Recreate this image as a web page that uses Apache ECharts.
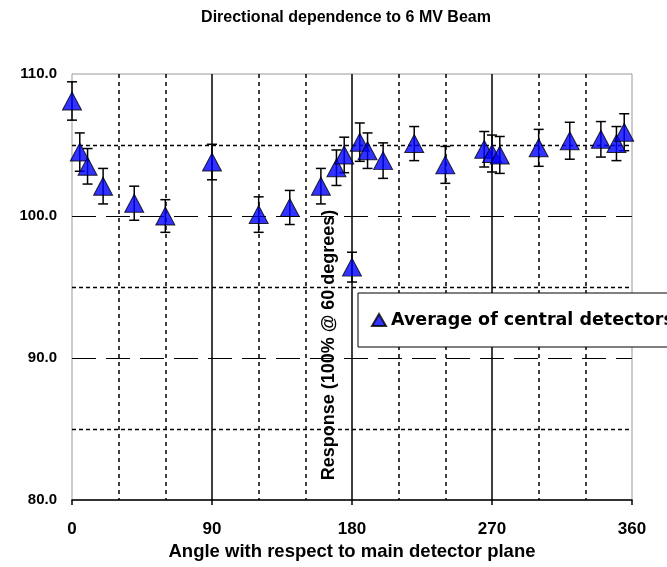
<!DOCTYPE html>
<html>
<head>
<meta charset="utf-8">
<script src="https://cdn.jsdelivr.net/npm/echarts@6/dist/echarts.min.js"></script>
<style>
  html, body { margin: 0; padding: 0; background: #fff; }
  #chart { width: 667px; height: 567px; }
</style>
</head>
<body>
<div id="chart"></div>
<script>
// angle (degrees) of each measurement
const angles = [0, 5, 10, 20, 40, 60, 90, 120, 140, 160, 170, 175, 180, 185, 190, 200, 220, 240, 265, 270, 275, 300, 320, 340, 350, 355]
// response normalised to 100% at 60 degrees
const response = [108.1, 104.5, 103.5, 102.1, 100.9, 100.0, 103.8, 100.1, 100.6, 102.1, 103.4, 104.3, 96.4, 105.2, 104.6, 103.9, 105.1, 103.6, 104.7, 104.4, 104.3, 104.8, 105.3, 105.4, 105.1, 105.9]
// error bar half-widths
const errors = [1.35, 1.35, 1.25, 1.25, 1.2, 1.15, 1.25, 1.25, 1.2, 1.25, 1.25, 1.25, 1.05, 1.35, 1.25, 1.25, 1.2, 1.3, 1.25, 1.3, 1.3, 1.3, 1.3, 1.25, 1.2, 1.3]

const seriesName = 'Average of central detectors'
const font = 'Liberation Sans'

const points = angles.map((a, i) => [a, response[i]])
const errData = angles.map((a, i) => [a, response[i] - errors[i], response[i] + errors[i]])

const chart = echarts.init(document.getElementById('chart'))

const option = {
  backgroundColor: '#fff',
  animation: false,
  title: {
    text: 'Directional dependence to 6 MV Beam',
    left: 346,
    textAlign: 'center',
    top: 10,
    padding: 0,
    textStyle: { fontFamily: font, fontSize: 16, fontWeight: 'bold', color: '#000' }
  },
  legend: {
    data: [seriesName],
    left: 358,
    top: 293,
    orient: 'horizontal',
    padding: [18, 20, 18, 13],
    itemWidth: 14,
    itemHeight: 12,
    backgroundColor: '#fff',
    borderColor: '#000',
    borderWidth: 1,
    borderRadius: 0,
    textStyle: { fontFamily: 'DejaVu Sans', fontSize: 17.5, fontWeight: 'bold', color: '#000' }
  },
  grid: {
    left: 72,
    right: 35,
    top: 74,
    bottom: 67,
    show: true,
    borderColor: '#999',
    borderWidth: 1
  },
  xAxis: [
    {
      type: 'value',
      min: 0,
      max: 360,
      interval: 90,
      position: 'bottom',
      name: 'Angle with respect to main detector plane',
      nameLocation: 'middle',
      nameGap: 39,
      nameTextStyle: { fontFamily: font, fontSize: 18.5, fontWeight: 'bold', color: '#000' },
      axisLine: { lineStyle: { color: '#000', width: 1.5 } },
      axisTick: { show: true, length: 5, lineStyle: { color: '#000', width: 1.5 } },
      axisLabel: { fontFamily: font, fontSize: 17, fontWeight: 'bold', color: '#000', margin: 21 },
      splitLine: {
        show: true,
        lineStyle: { color: ['transparent', '#000', '#000', '#000', 'transparent'], width: 1.5, type: 'solid' }
      }
    },
    {
      type: 'value',
      min: 0,
      max: 360,
      interval: 30,
      position: 'bottom',
      axisLine: { show: false },
      axisTick: { show: false },
      axisLabel: { show: false },
      splitLine: {
        show: true,
        lineStyle: { color: ['transparent', '#000', '#000'], width: 1.5, type: [4, 4] }
      }
    }
  ],
  yAxis: [
    {
      type: 'value',
      min: 80,
      max: 110,
      interval: 10,
      position: 'left',
      axisLine: { show: false },
      axisTick: { show: false },
      axisLabel: {
        fontFamily: font, fontSize: 15, fontWeight: 'bold', color: '#000', margin: 15,
        formatter: v => v.toFixed(1)
      },
      splitLine: {
        show: true,
        lineStyle: { color: ['transparent', '#000', '#000', 'transparent'], width: 1.2, type: [24, 10] }
      }
    },
    {
      type: 'value',
      min: 80,
      max: 110,
      interval: 5,
      position: 'left',
      axisLine: { show: false },
      axisTick: { show: false },
      axisLabel: { show: false },
      splitLine: {
        show: true,
        lineStyle: { color: ['transparent', '#000'], width: 1.3, type: [4, 3] }
      }
    }
  ],
  graphic: [
    {
      type: 'text',
      x: 329,
      y: 345,
      rotation: Math.PI / 2,
      z: 10,
      style: {
        text: 'Response (100% @ 60 degrees)',
        font: 'bold 18px "Liberation Sans"',
        fill: '#000',
        textAlign: 'center',
        textVerticalAlign: 'middle'
      }
    }
  ],
  series: [
    {
      name: 'error',
      type: 'custom',
      xAxisIndex: 0,
      yAxisIndex: 0,
      z: 2,
      silent: true,
      encode: { x: 0, y: [1, 2] },
      data: errData,
      renderItem(params, api) {
        const x = api.value(0)
        const lo = api.coord([x, api.value(1)])
        const hi = api.coord([x, api.value(2)])
        const cap = 5
        const st = { stroke: '#000', lineWidth: 1.5 }
        return {
          type: 'group',
          children: [
            { type: 'line', shape: { x1: lo[0], y1: lo[1], x2: hi[0], y2: hi[1] }, style: st },
            { type: 'line', shape: { x1: lo[0] - cap, y1: lo[1], x2: lo[0] + cap, y2: lo[1] }, style: st },
            { type: 'line', shape: { x1: hi[0] - cap, y1: hi[1], x2: hi[0] + cap, y2: hi[1] }, style: st }
          ]
        }
      }
    },
    {
      name: seriesName,
      type: 'scatter',
      xAxisIndex: 0,
      yAxisIndex: 0,
      z: 3,
      symbol: 'triangle',
      symbolSize: [19, 18],
      itemStyle: { color: '#0000ff', borderColor: '#000', borderWidth: 1 },
      data: points
    }
  ]
}

chart.setOption(option)
</script>
</body>
</html>
